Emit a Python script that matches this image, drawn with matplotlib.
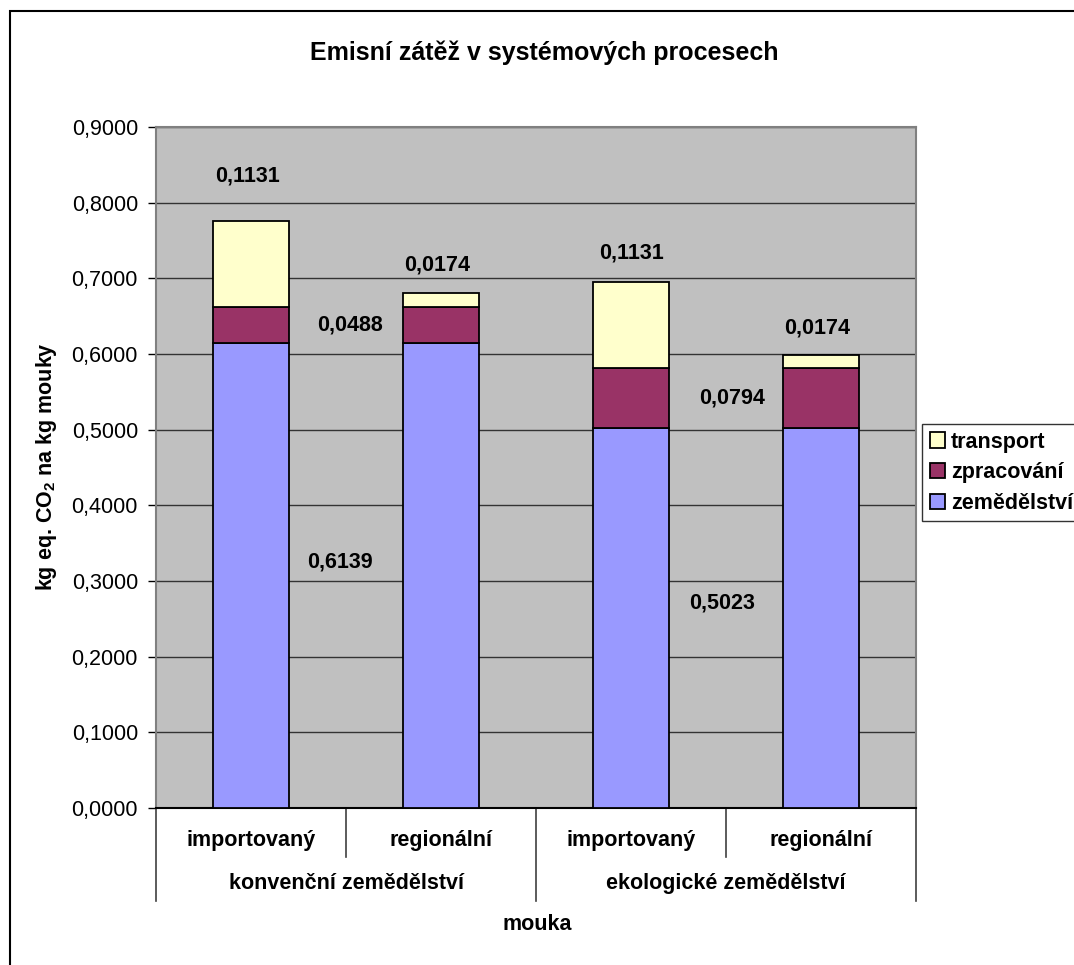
import matplotlib.pyplot as plt
from matplotlib.patches import Rectangle
from matplotlib.ticker import FuncFormatter

plt.rcParams['font.family'] = 'Liberation Sans'
plt.rcParams['mathtext.fontset'] = 'custom'
plt.rcParams['mathtext.rm'] = 'Liberation Sans'
plt.rcParams['mathtext.bf'] = 'Liberation Sans:bold'

# data
origin = ['importovaný', 'regionální', 'importovaný', 'regionální']
farming = ['konvenční zemědělství', 'ekologické zemědělství']
zemedelstvi = [0.6139, 0.6139, 0.5023, 0.5023]
zpracovani = [0.0488, 0.0488, 0.0794, 0.0794]
transport = [0.1131, 0.0174, 0.1131, 0.0174]

# one label per distinct value: (value, x, y)
labels = [
    (0.1131, -0.02, 0.835),
    (0.0174, 0.98, 0.718),
    (0.0488, 0.52, 0.638),
    (0.6139, 0.47, 0.325),
    (0.1131, 2.00, 0.733),
    (0.0174, 2.98, 0.634),
    (0.0794, 2.53, 0.542),
    (0.5023, 2.48, 0.271),
]

FS = 15.5

fig = plt.figure(figsize=(10.74, 9.65), dpi=100)
ax = fig.add_axes([156/1074, 1-808/965, 760/1074, 681/965])
ax.set_facecolor('#C0C0C0')

x = range(len(origin))
bottom2 = [a+b for a, b in zip(zemedelstvi, zpracovani)]
kw = dict(width=0.4, edgecolor='black', linewidth=1.3, zorder=3)
b1 = ax.bar(x, zemedelstvi, color='#9999FF', label='zemědělství', **kw)
b2 = ax.bar(x, zpracovani, bottom=zemedelstvi, color='#993366', label='zpracování', **kw)
b3 = ax.bar(x, transport, bottom=bottom2, color='#FFFFCC', label='transport', **kw)

for val, lx, ly in labels:
    ax.text(lx, ly, f'{val:.4f}'.replace('.', ','), ha='center', va='center',
            fontsize=FS, fontweight='bold', zorder=4)

ax.set_xlim(-0.5, 3.5)
ax.set_ylim(0, 0.9)
ax.set_yticks([i/10 for i in range(10)])
ax.yaxis.set_major_formatter(FuncFormatter(lambda v, p: f'{v:.4f}'.replace('.', ',')))
ax.tick_params(axis='y', labelsize=FS, length=6, width=1, direction='out', pad=7)
ax.set_xticks([])
ax.yaxis.grid(True, color='#333333', linewidth=1)
ax.set_axisbelow(True)
for s in ['top', 'right', 'left']:
    ax.spines[s].set_color('#808080')
    ax.spines[s].set_linewidth(1.5)
ax.spines['bottom'].set_color('black')
ax.spines['bottom'].set_linewidth(1.5)

# two-level category axis
tr = ax.get_xaxis_transform()
for xs in [-0.5, 1.5, 3.5]:
    ax.plot([xs, xs], [0, -0.1366], transform=tr, color='#404040', lw=1.2, clip_on=False)
for xs in [0.5, 2.5]:
    ax.plot([xs, xs], [0, -0.072], transform=tr, color='#404040', lw=1.2, clip_on=False)
for i, name in enumerate(origin):
    ax.text(i, -0.047, name, transform=tr, ha='center', va='center',
            fontsize=FS, fontweight='bold')
for j, name in enumerate(farming):
    ax.text(0.5 + 2*j, -0.1116, name, transform=tr, ha='center', va='center',
            fontsize=FS, fontweight='bold')

fig.text(537/1074, 1-925/965, 'mouka', ha='center', va='center', fontsize=FS, fontweight='bold')
fig.text(47/1074, 1-467/965, r'kg eq. CO$_\mathbf{2}$ na kg mouky', rotation=90,
         ha='center', va='center', fontsize=FS, fontweight='bold')
fig.text(544/1074, 1-53/965, 'Emisní zátěž v systémových procesech', ha='center',
         va='center', fontsize=18, fontweight='bold')

leg = fig.legend(handles=[b3, b2, b1], loc='upper left',
                 bbox_to_anchor=(922/1074, 1-424/965), frameon=True, fancybox=False,
                 prop={'size': FS, 'weight': 'bold'}, handlelength=0.7, handleheight=0.7,
                 handletextpad=0.3, borderpad=0.35, labelspacing=0.45, borderaxespad=0)
leg.get_frame().set_edgecolor('black')
leg.get_frame().set_linewidth(1)

# outer chart border
fig.add_artist(Rectangle((10/1074, -0.1), 1.2, 1.1 - 11/965, transform=fig.transFigure,
                         fill=False, edgecolor='black', linewidth=1.5))

fig.savefig('out.png', dpi=100)
